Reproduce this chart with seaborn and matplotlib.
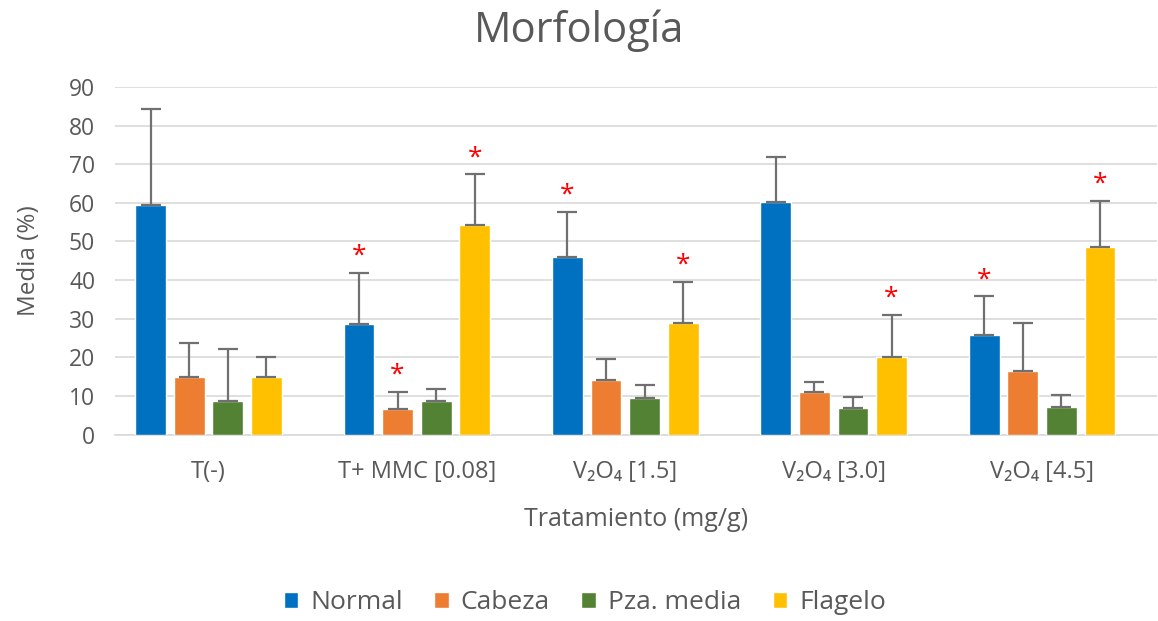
import matplotlib
matplotlib.use("Agg")
import matplotlib.pyplot as plt
import seaborn as sns
import pandas as pd
import numpy as np

# Data
tratamientos = ["T(-)", "T+ MMC [0.08]", "V\u2082O\u2084 [1.5]", "V\u2082O\u2084 [3.0]", "V\u2082O\u2084 [4.5]"]
series = ["Normal", "Cabeza", "Pza. media", "Flagelo"]
normal = [59.5, 28.7, 46.0, 60.2, 25.7]
cabeza = [15.0, 6.7, 14.2, 11.1, 16.6]
pza_media = [8.8, 8.8, 9.6, 7.0, 7.2]
flagelo = [15.0, 54.3, 28.9, 20.2, 48.7]
err_normal = [24.7, 13.2, 11.6, 11.6, 10.1]
err_cabeza = [8.8, 4.4, 5.4, 2.6, 12.2]
err_pza = [13.4, 3.1, 3.3, 2.8, 3.1]
err_flagelo = [5.2, 13.1, 10.6, 10.8, 11.9]
# significance marks (True = red asterisk)
sig_normal = [False, True, True, False, True]
sig_cabeza = [False, True, False, False, False]
sig_pza = [False, False, False, False, False]
sig_flagelo = [False, True, True, True, True]

colors = ["#0070C0", "#ED7D31", "#548235", "#FFC000"]
txt = "#595959"

means = [normal, cabeza, pza_media, flagelo]
errs = [err_normal, err_cabeza, err_pza, err_flagelo]
sigs = [sig_normal, sig_cabeza, sig_pza, sig_flagelo]

rows = []
for s, vals in zip(series, means):
    for t, v in zip(tratamientos, vals):
        rows.append({"Tratamiento": t, "Serie": s, "Media": v})
df = pd.DataFrame(rows)

sns.set_style("white")
plt.rcParams["font.family"] = ["Open Sans", "DejaVu Sans"]

fig = plt.figure(figsize=(11.58, 6.21), dpi=100)
ax = fig.add_axes([0.099, 0.30, 0.90, 0.56])

sns.barplot(data=df, x="Tratamiento", y="Media", hue="Serie", order=tratamientos,
            hue_order=series, palette=colors, width=0.74, gap=0.2, errorbar=None,
            saturation=1, ax=ax, zorder=3)

# error bars (upper only) and asterisks
for i, s in enumerate(series):
    cont = ax.containers[i]
    for j, bar in enumerate(cont):
        x = bar.get_x() + bar.get_width() / 2
        m = means[i][j]
        e = errs[i][j]
        ax.errorbar(x, m, yerr=[[0], [e]], fmt="none", ecolor="#707070",
                    elinewidth=1.6, capsize=7, capthick=1.6, zorder=4)
        if sigs[i][j]:
            ax.annotate("*", (x, m + e), xytext=(0, 3), textcoords="offset points",
                        ha="center", va="bottom", color="#FF0000", fontsize=19)

ax.set_ylim(0, 90)
ax.set_yticks(range(0, 91, 10))
ax.set_xlim(-0.45, 4.55)
ax.yaxis.grid(True, color="#D9D9D9", linewidth=1.2, zorder=0)
ax.set_axisbelow(True)
for sp in ["top", "right", "left"]:
    ax.spines[sp].set_visible(False)
ax.spines["bottom"].set_color("#D9D9D9")
ax.spines["bottom"].set_linewidth(1.2)
ax.tick_params(axis="y", length=0, labelsize=16.5, labelcolor=txt, pad=14)
ax.tick_params(axis="x", length=0, labelsize=17, labelcolor=txt, pad=18)

fig.suptitle("Morfología", x=0.5, y=0.985, fontsize=30, color=txt)
ax.set_ylabel("Media (%)", fontsize=17.5, color=txt, labelpad=20)
ax.set_xlabel("Tratamiento (mg/g)", fontsize=18, color=txt, labelpad=17)

ax.legend(loc="center", bbox_to_anchor=(0.451, -0.483), ncol=4, frameon=False,
          fontsize=19, labelcolor=txt, handlelength=0.55, handleheight=0.55,
          handletextpad=0.45, columnspacing=1.2)

fig.savefig("out.png", dpi=100)
